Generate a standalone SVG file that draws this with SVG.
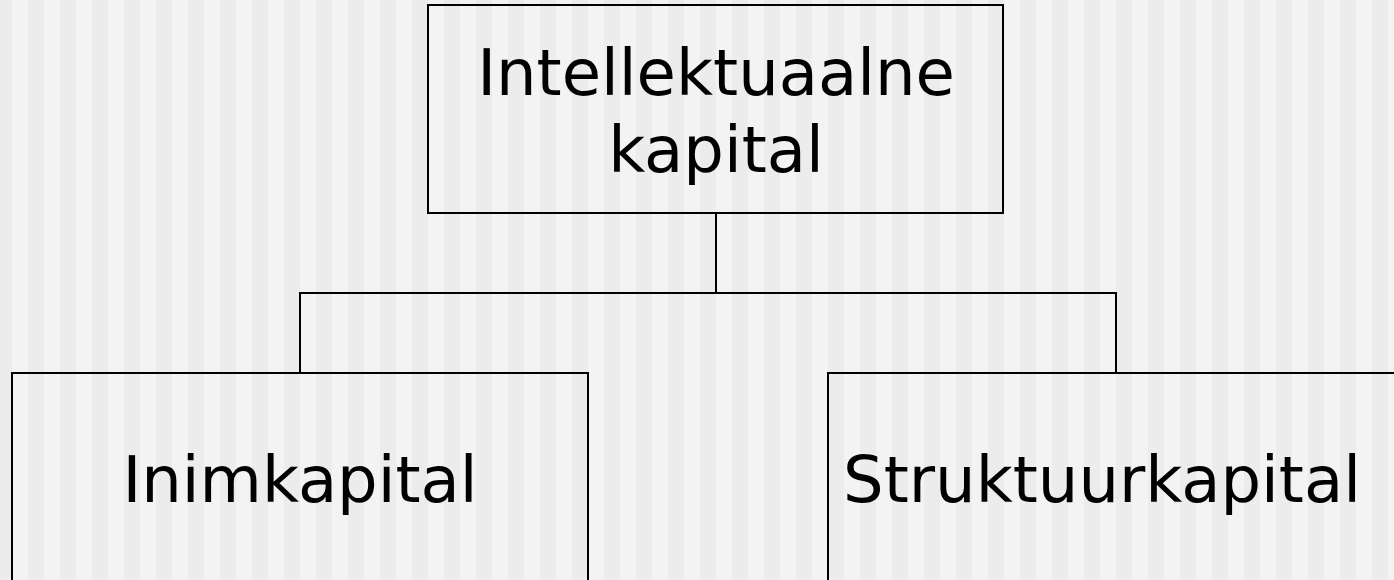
<svg xmlns="http://www.w3.org/2000/svg" width="1394" height="580" viewBox="0 0 1394 580">
<defs>
<style>
.box{fill:none;stroke:#000;stroke-width:2}
.conn{fill:none;stroke:#000;stroke-width:2}
.lbl{font-family:"DejaVu Sans",Verdana,sans-serif;font-size:64px;fill:#000;text-anchor:middle}
</style>
</defs>
<rect x="0" y="0" width="1394" height="580" fill="#ececec"/>
<line x1="12" y1="290" x2="1394" y2="290" stroke="#f3f3f3" stroke-width="580" stroke-dasharray="16 16"/>
<g id="connectors">
<polyline class="conn" points="716,213 716,293"/>
<polyline class="conn" points="300,373 300,293 1116,293 1116,373"/>
</g>
<g id="node-intellektuaalne">
<rect class="box" x="428" y="5" width="575" height="208"/>
<text class="lbl" x="716" y="95">Intellektuaalne</text>
<text class="lbl" x="716" y="172">kapital</text>
</g>
<g id="node-inimkapital">
<rect class="box" x="12" y="373" width="576" height="220"/>
<text class="lbl" x="300" y="502">Inimkapital</text>
</g>
<g id="node-struktuurkapital">
<rect class="box" x="828" y="373" width="600" height="220"/>
<text class="lbl" x="1102" y="502">Struktuurkapital</text>
</g>
</svg>
